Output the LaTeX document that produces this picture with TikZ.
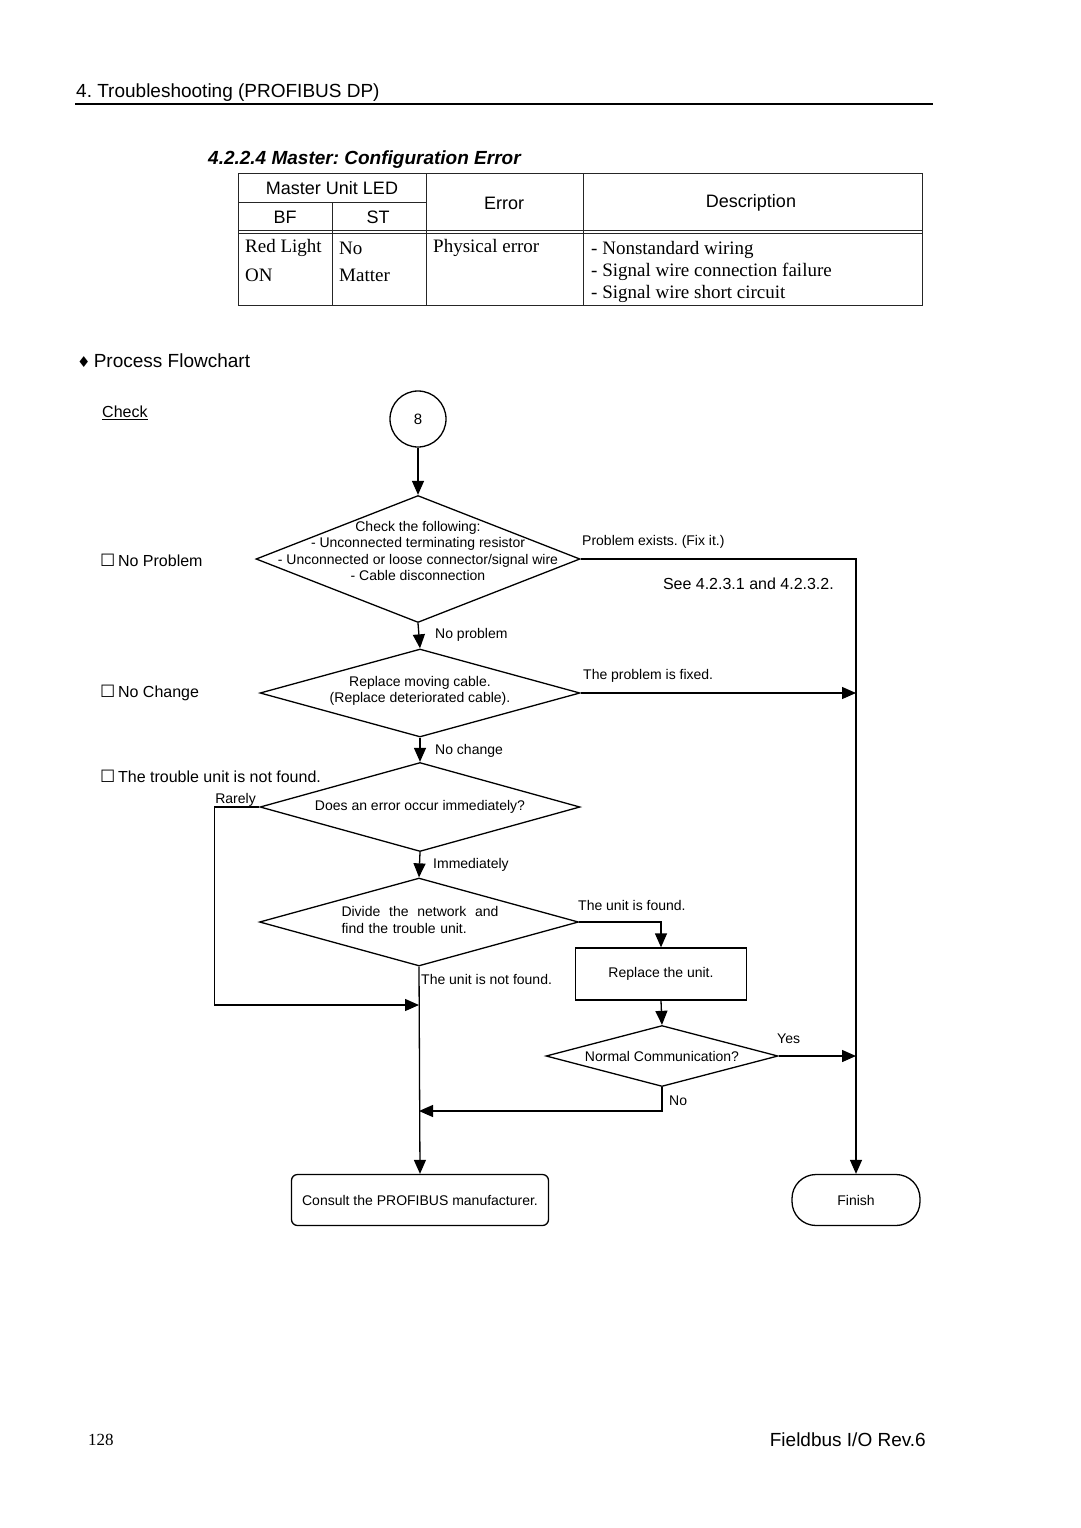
\documentclass[tikz,border=0pt]{standalone}
\usepackage{fontspec}
\setmainfont{Liberation Sans}
\newfontfamily\serifrm{Liberation Serif}
\newfontfamily\symfont{DejaVu Sans}
\usetikzlibrary{shapes.geometric,arrows.meta}
\frenchspacing
\tikzset{
  flow/.style={line width=1.3pt,-{Triangle[length=14pt,width=12pt]}},
  wire/.style={line width=1.3pt},
  decide/.style={diamond,draw,line width=1.3pt,inner sep=0pt},
  small/.style={font=\fontsize{14}{16.5}\selectfont,inner sep=0pt},
  side/.style={font=\fontsize{16}{19}\selectfont,inner sep=0pt,anchor=west},
  big/.style={font=\fontsize{19}{22}\selectfont,inner sep=0pt},
  cell/.style={font=\serifrm\fontsize{19}{22}\selectfont,inner sep=0pt,anchor=west},
  grid/.style={line width=1pt,black!85},
}
\begin{document}
\begin{tikzpicture}[x=1pt,y=-1pt]
\useasboundingbox[fill=white] (0,0) rectangle (1080,1528);
% page head
\node[big,anchor=west] (head) at (76,93) {4. Troubleshooting (PROFIBUS DP)};
\draw[line width=1.6pt] (75,104) -- (933,104);
\node[big,anchor=west,font=\fontsize{19}{22}\selectfont\bfseries\itshape] (title) at (208,160) {4.2.2.4 Master: Configuration Error};
% table
\draw[grid] (238,173) rectangle (922,305);
\draw[grid] (238,202) -- (426,202);
\draw[grid] (332,202) -- (332,305);
\draw[grid] (426,173) -- (426,305);
\draw[grid] (583,173) -- (583,305);
\draw[grid] (238,230) -- (922,230);
\draw[grid] (238,233) -- (922,233);
\node[big,font=\fontsize{18}{22}\selectfont] (led) at (332,188) {Master Unit LED};
\node[big,font=\fontsize{18}{22}\selectfont] (bf) at (285,217) {BF};
\node[big,font=\fontsize{18}{22}\selectfont] (st) at (378,217) {ST};
\node[big,font=\fontsize{18}{22}\selectfont] (err-h) at (504,203) {Error};
\node[big,font=\fontsize{18}{22}\selectfont] (desc-h) at (751,203) {Description};
\node[cell] (bf1) at (245,248) {Red Light};
\node[cell] (bf2) at (245,275) {ON};
\node[cell] (st1) at (339,248) {No};
\node[cell] (st2) at (339,275) {Matter};
\node[cell] (err1) at (433,248) {Physical error};
\node[cell] (d1) at (591,250) {- Nonstandard wiring};
\node[cell] (d2) at (591,272) {- Signal wire connection failure};
\node[cell] (d3) at (591,294) {- Signal wire short circuit};
% flowchart
\node[big,anchor=west] (pf) at (77,361) {{\symfont\fontsize{15}{17}\selectfont ♦}\,Process Flowchart};
\node[side] (chk-h) at (102,413) {\underline{Check}};
\node[side] (s1) at (100,560) {{\symfont\fontsize{17}{19}\selectfont ☐}\,No Problem};
\node[side] (s2) at (100,693) {{\symfont\fontsize{17}{19}\selectfont ☐}\,No Change};
\node[side] (s3) at (100,776) {{\symfont\fontsize{17}{19}\selectfont ☐}\,The trouble unit is not found.};

\node[circle,draw,line width=1.3pt,minimum size=56pt,font=\fontsize{15}{18}\selectfont] (c8) at (418,419) {8};
\node[decide,minimum width=324pt,minimum height=127pt] (chk) at (418,559) {};
\node[small,align=center] (chk-t) at ([yshift=8pt]chk.center) {Check the following:\\- Unconnected terminating resistor\\- Unconnected or loose connector/signal wire\\- Cable disconnection};
\node[decide,minimum width=320pt,minimum height=88pt] (rep) at (420,693) {};
\node[small,align=center] (rep-t) at ([yshift=2pt]rep.center) {Replace moving cable.\\(Replace deteriorated cable).};
\node[decide,minimum width=320pt,minimum height=89pt] (err) at (420,807) {};
\node[small] (err-t) at (err.center) {Does an error occur immediately?};
\node[decide,minimum width=319pt,minimum height=88pt] (div) at (419,922) {};
\node[small,text width=157pt,align=left] (div-t) at ([xshift=1pt,yshift=2pt]div.center) {\makebox[157pt][l]{Divide\hfill the\hfill network\hfill and}\\find the trouble unit.};
\node[draw,line width=1.3pt,minimum width=171pt,minimum height=52pt,small] (unit) at (661,974) {Replace the unit.};
\node[decide,minimum width=232pt,minimum height=61pt] (ncom) at (662,1056) {};
\node[small] (ncom-t) at (ncom.center) {Normal Communication?};
\node[draw,line width=1.3pt,rounded corners=6pt,minimum width=257pt,minimum height=51pt,small] (cons) at (420,1200) {Consult the PROFIBUS manufacturer.};
\node[draw,line width=1.3pt,rounded corners=24pt,minimum width=128pt,minimum height=51pt,small] (fin) at (856,1200) {Finish};
\coordinate (j1) at (419,1005);
\coordinate (j2) at (419,1111);

\draw[flow] (c8) -- (chk.north);
\draw[flow] (chk.east) -| (fin.north);
\draw[flow] (chk.south) -- (rep.north);
\draw[flow] (rep.east) -- (rep.east -| fin.north);
\draw[flow] (rep.south) -- (err.north);
\draw[flow] (err.south) -- (div.south |- div.north);
\draw[flow] (err.west) -- ++(-45,0) |- (j1);
\draw[flow] (div.east) -| (unit.north);
\draw[flow] (unit.south) -- (ncom.north);
\draw[flow] (ncom.east) -- (ncom.east -| fin.north);
\draw[flow] (ncom.south) |- (j2);
\draw[flow] (div.south) -- (cons.north);

\node[small,anchor=west] (l1) at (582,542) {Problem exists. (Fix it.)};
\node[side,anchor=east] (l2) at (834,584) {See 4.2.3.1 and 4.2.3.2.};
\node[small,anchor=west] (l3) at (435,635) {No problem};
\node[small,anchor=west] (l4) at (583,676) {The problem is fixed.};
\node[small,anchor=west] (l5) at (435,751) {No change};
\node[small,anchor=east] (l6) at (256,800) {Rarely};
\node[small,anchor=west] (l7) at (433,865) {Immediately};
\node[small,anchor=west] (l8) at (578,905) {The unit is found.};
\node[small,anchor=west] (l9) at (421,979) {The unit is not found.};
\node[small,anchor=west] (l10) at (777,1039) {Yes};
\node[small,anchor=west] (l11) at (669,1101) {No};
% page foot
\node[anchor=west,inner sep=0pt,font=\serifrm\fontsize{17}{20}\selectfont] (pg) at (88,1440) {128};
\node[big,anchor=east] (foot) at (926,1440) {Fieldbus I/O Rev.6};
\end{tikzpicture}
\end{document}
